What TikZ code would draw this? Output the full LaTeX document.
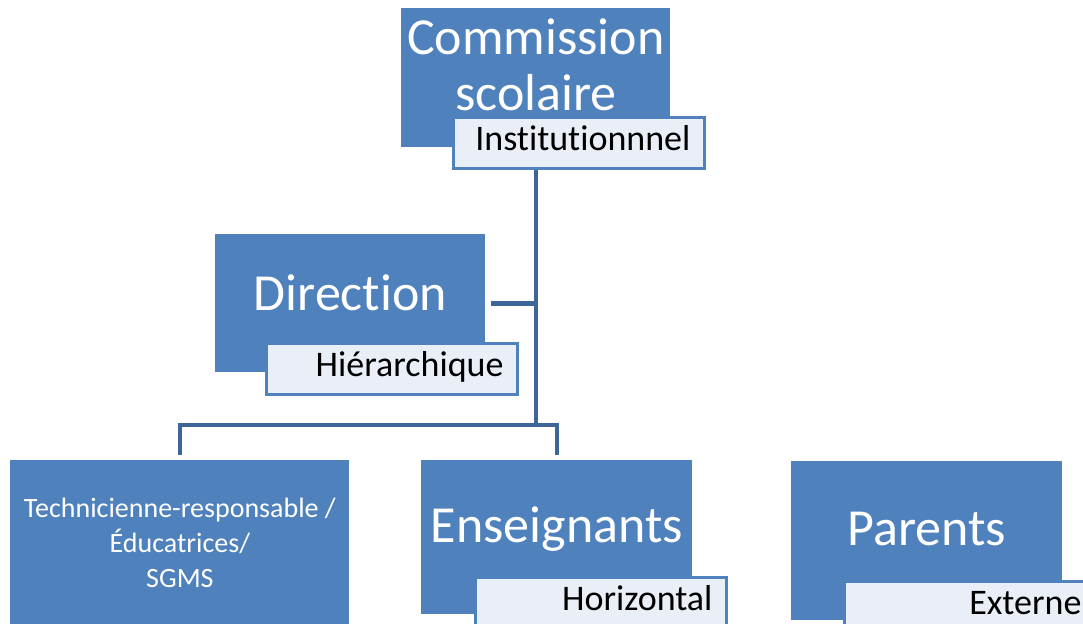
\documentclass[tikz,border=0pt]{standalone}
\usepackage{fontspec}
\setmainfont{Carlito}[Ligatures=NoCommon]
\usepackage{tikz}
\usetikzlibrary{positioning}
\pgfdeclarelayer{background}
\pgfdeclarelayer{foreground}
\pgfsetlayers{background,main,foreground}
\definecolor{boxblue}{RGB}{79,129,189}
\definecolor{lineblue}{RGB}{61,101,152}
\definecolor{tagfill}{RGB}{234,239,247}
\tikzstyle{rang}=[fill=boxblue, text=white, anchor=north west, inner sep=0pt, align=center, font=\fontsize{26}{28}\selectfont]
\tikzstyle{tag}=[fill=tagfill, draw=boxblue, line width=1.5pt, anchor=north west, inner xsep=7pt, inner ysep=0pt, minimum height=25.5pt, text width=111.5pt, align=right, text height=13pt, text depth=5pt, font=\fontsize{18}{19}\selectfont]
\tikzstyle{lien}=[draw=lineblue, line width=2.4pt]
\def\ux{0.5pt}
\def\uy{-0.5pt}
\begin{document}
\begin{tikzpicture}[x=\ux,y=\uy]
		\useasboundingbox (0,0) rectangle (1083,624);
		\clip (0,0) rectangle (1083,624);

		% boites
		\node[rang, minimum width=269*\ux, minimum height=139*\ux, text height=46pt, text depth=13.5pt] (comm) at (401,8) {Commission\\scolaire};
		\node[rang, minimum width=270*\ux, minimum height=138*\ux, text height=18pt, text depth=11pt] (dir) at (215,234) {Direction};
		\node[rang, minimum width=339*\ux, minimum height=180*\ux, text height=51pt, text depth=14pt, font=\fontsize{14}{17.5}\selectfont] (tech) at (10,460) {Technicienne-responsable /\\Éducatrices/\\SGMS};
		\node[rang, minimum width=271*\ux, minimum height=154*\ux, text height=18pt, text depth=13pt] (ens) at (421,460) {Enseignants};
		\node[rang, minimum width=271*\ux, minimum height=159*\ux, text height=18pt, text depth=13.5pt] (par) at (791,461) {Parents};

		% etiquettes
		\node[tag] (inst) at (452,116) {Institutionnnel};
		\node[tag] (hier) at (265,342) {Hiérarchique};
		\node[tag] (horiz) at (474,576) {Horizontal};
		\node[tag] (ext) at (843,580) {Externe};

		\begin{pgfonlayer}{background}
			\coordinate (bus) at (535,425);
			\draw[lien] (comm.south) -- (comm.south |- bus);
			\draw[lien, shorten <=2.5pt] (dir.east) -- (dir.east -| comm.south);
			\draw[lien, shorten <=2.5pt, shorten >=2.5pt] (tech.north) |- (bus) -| (ens.north);
		\end{pgfonlayer}
\end{tikzpicture}
\end{document}
